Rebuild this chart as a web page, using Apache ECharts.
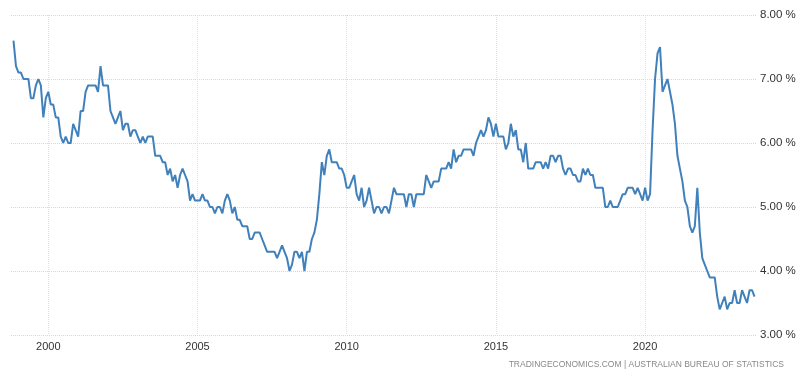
<!DOCTYPE html>
<html>
<head>
<meta charset="utf-8">
<script src="https://cdn.jsdelivr.net/npm/echarts@6/dist/echarts.min.js"></script>
<style>
html,body{margin:0;padding:0;background:#fff;}
#chart{width:800px;height:377px;}
</style>
</head>
<body>
<div id="chart"></div>
<script>
// Monthly series starts November 1998
var startYear = 1998;
var startMonth = 11;

var v1998 = [7.6, 7.2];
var v1999 = [7.1, 7.1, 7.0, 7.0, 7.0, 6.7, 6.7, 6.9, 7.0, 6.9, 6.4, 6.7];
var v2000 = [6.8, 6.6, 6.6, 6.4, 6.4, 6.1, 6.0, 6.1, 6.0, 6.0, 6.3, 6.2];
var v2001 = [6.1, 6.5, 6.5, 6.8, 6.9, 6.9, 6.9, 6.9, 6.8, 7.2, 6.9, 6.9];
var v2002 = [6.9, 6.5, 6.4, 6.3, 6.4, 6.5, 6.2, 6.3, 6.3, 6.1, 6.2, 6.2];
var v2003 = [6.1, 6.0, 6.1, 6.0, 6.1, 6.1, 6.1, 5.8, 5.8, 5.8, 5.7, 5.7];
var v2004 = [5.5, 5.6, 5.4, 5.5, 5.3, 5.5, 5.6, 5.5, 5.4, 5.1, 5.2, 5.1];
var v2005 = [5.1, 5.1, 5.2, 5.1, 5.1, 5.0, 5.0, 4.9, 5.0, 5.0, 4.9, 5.1];
var v2006 = [5.2, 5.1, 4.9, 5.0, 4.8, 4.8, 4.7, 4.7, 4.7, 4.5, 4.5, 4.6];
var v2007 = [4.6, 4.6, 4.5, 4.4, 4.3, 4.3, 4.3, 4.3, 4.2, 4.3, 4.4, 4.3];
var v2008 = [4.2, 4.0, 4.1, 4.3, 4.3, 4.2, 4.3, 4.0, 4.3, 4.3, 4.5, 4.6];
var v2009 = [4.8, 5.2, 5.7, 5.5, 5.8, 5.9, 5.7, 5.7, 5.7, 5.6, 5.6, 5.5];
var v2010 = [5.3, 5.3, 5.4, 5.5, 5.2, 5.1, 5.3, 5.0, 5.1, 5.3, 5.1, 4.9];
var v2011 = [5.0, 5.0, 4.9, 5.0, 5.0, 4.9, 5.1, 5.3, 5.2, 5.2, 5.2, 5.2];
var v2012 = [5.0, 5.2, 5.2, 5.0, 5.2, 5.2, 5.2, 5.2, 5.5, 5.4, 5.3, 5.4];
var v2013 = [5.4, 5.4, 5.6, 5.6, 5.6, 5.7, 5.6, 5.9, 5.7, 5.8, 5.8, 5.9];
var v2014 = [5.9, 5.9, 5.9, 5.8, 6.0, 6.1, 6.2, 6.1, 6.2, 6.4, 6.3, 6.1];
var v2015 = [6.3, 6.1, 6.1, 6.1, 5.9, 6.0, 6.3, 6.1, 6.2, 5.9, 5.9, 5.7];
var v2016 = [6.0, 5.6, 5.6, 5.6, 5.7, 5.7, 5.7, 5.6, 5.7, 5.6, 5.8, 5.8];
var v2017 = [5.7, 5.8, 5.8, 5.6, 5.5, 5.6, 5.6, 5.5, 5.5, 5.4, 5.4, 5.6];
var v2018 = [5.5, 5.6, 5.5, 5.5, 5.3, 5.3, 5.3, 5.3, 5.0, 5.0, 5.1, 5.0];
var v2019 = [5.0, 5.0, 5.1, 5.2, 5.2, 5.3, 5.3, 5.3, 5.2, 5.3, 5.2, 5.1];
var v2020 = [5.3, 5.1, 5.2, 6.2, 7.0, 7.4, 7.5, 6.8, 6.9, 7.0, 6.8, 6.6];
var v2021 = [6.3, 5.8, 5.6, 5.4, 5.1, 5.0, 4.7, 4.6, 4.7, 5.3, 4.6, 4.2];
var v2022 = [4.1, 4.0, 3.9, 3.9, 3.9, 3.6, 3.4, 3.5, 3.6, 3.4, 3.5, 3.5];
var v2023 = [3.7, 3.5, 3.5, 3.7, 3.6, 3.5, 3.7, 3.7, 3.6];

var labelYears = [2000, 2005, 2010, 2015, 2020];
var yTicks = [3, 4, 5, 6, 7, 8];
var sourceText = 'TRADINGECONOMICS.COM | AUSTRALIAN BUREAU OF STATISTICS';

var values = [].concat(v1998, v1999, v2000, v2001, v2002, v2003, v2004, v2005,
  v2006, v2007, v2008, v2009, v2010, v2011, v2012, v2013, v2014, v2015,
  v2016, v2017, v2018, v2019, v2020, v2021, v2022, v2023);

// categories: one padding month on each side so the grid extends a little past the line
var cats = [];
var seriesData = [];
function ym(offset) {
  var t = startYear * 12 + (startMonth - 1) + offset;
  var y = Math.floor(t / 12), m = t % 12 + 1;
  return y + '-' + (m < 10 ? '0' : '') + m;
}
cats.push(ym(-1)); seriesData.push(null);
for (var i = 0; i < values.length; i++) { cats.push(ym(i)); seriesData.push(values[i]); }
cats.push(ym(values.length)); seriesData.push(null);

function isLabelCat(idx, val) {
  var parts = String(val).split('-');
  return parts[1] === '01' && labelYears.indexOf(+parts[0]) >= 0;
}

var chart = echarts.init(document.getElementById('chart'), null, {renderer: 'canvas'});
chart.setOption({
  animation: false,
  backgroundColor: '#ffffff',
  grid: {left: 11, right: 43, top: 15, bottom: 42, containLabel: false},
  title: {
    text: sourceText,
    right: 11, bottom: 3,
    textStyle: {fontFamily: 'Liberation Sans, Arial, sans-serif', fontSize: 8.5, fontWeight: 'normal', color: '#888888'}
  },
  xAxis: {
    type: 'category',
    data: cats,
    boundaryGap: false,
    axisLine: {show: false},
    axisTick: {show: false},
    axisLabel: {
      interval: isLabelCat,
      formatter: function (v) { return v.split('-')[0]; },
      color: '#333333',
      fontFamily: 'Liberation Sans, Arial, sans-serif',
      fontSize: 11,
      margin: 6
    },
    splitLine: {
      show: true,
      interval: isLabelCat,
      lineStyle: {color: '#e0e0e0', type: 'dotted', width: 1}
    }
  },
  yAxis: {
    type: 'value',
    position: 'right',
    min: yTicks[0],
    max: yTicks[yTicks.length - 1],
    interval: 1,
    axisLine: {show: false},
    axisTick: {show: false},
    axisLabel: {
      formatter: function (v) { return v.toFixed(2) + ' %'; },
      color: '#333333',
      fontFamily: 'Liberation Sans, Arial, sans-serif',
      fontSize: 11.5,
      margin: 3
    },
    splitLine: {lineStyle: {color: '#d6d6d6', type: 'dotted', width: 1}}
  },
  series: [{
    type: 'line',
    data: seriesData,
    showSymbol: false,
    symbol: 'none',
    connectNulls: false,
    lineStyle: {color: '#4181bb', width: 2},
    itemStyle: {color: '#4181bb'}
  }]
});
</script>
</body>
</html>
